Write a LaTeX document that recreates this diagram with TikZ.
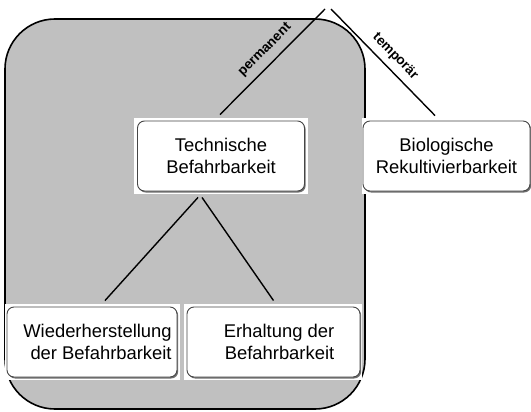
\documentclass[tikz,border=0pt]{standalone}
\usepackage{fontspec}
\setmainfont{Liberation Sans}
\usetikzlibrary{shadows,backgrounds,calc}
\definecolor{regiongray}{RGB}{192,192,192}
\begin{document}
\begin{tikzpicture}[x=1pt,y=-1pt,
  box/.style={draw=gray!55!black, line width=0.9pt, rounded corners=7pt, fill=white,
    minimum height=70pt, inner sep=2pt, align=center,
    font=\fontsize{18.4}{22}\selectfont,
    drop shadow={shadow xshift=1.2pt, shadow yshift=-1.5pt, fill=gray!60!black, opacity=0.8}},
  conn/.style={line width=1.4pt},
  edgelabel/.style={font=\fontsize{13.5}{15}\selectfont\bfseries, inner sep=0pt}]
\useasboundingbox (0,0) rectangle (531,412);
\node[box, minimum width=167pt] (T) at (221,156) {Technische\\Befahrbarkeit};
\node[box, minimum width=167pt] (B) at (446.5,156) {Biologische\\Rekultivierbarkeit};
\node[box, minimum width=170pt, align=right] (W) at (92,342) {\hspace*{11pt}Wiederherstellung\\der Befahrbarkeit};
\node[box, minimum width=173pt, align=right] (E) at (273.5,342) {\hspace*{11pt}Erhaltung der\\Befahrbarkeit};
\coordinate (ptop) at (325,9);
\coordinate (ttop) at (331,9);
\begin{scope}[on background layer]
\draw[fill=regiongray, line width=1.6pt, rounded corners=50pt] (5,19) rectangle (365,409);
\fill[white] ($(T.north west)+(-3,-3)$) rectangle ($(T.south east)+(3,3)$);
\fill[white] ($(B.north west)+(-1,-3)$) rectangle ($(B.south east)+(3,3)$);
\fill[white] ($(W.north west)+(-2,-3)$) rectangle ($(W.south east)+(3,3)$);
\fill[white] ($(E.north west)+(-3,-3)$) rectangle ($(E.south east)+(2,3)$);
\end{scope}
\draw[conn] ([xshift=-1pt,yshift=6pt]T.north) -- node[edgelabel, sloped, above=7pt, pos=0.52] (lp) {permanent} (ptop);
\draw[conn] (ttop) -- node[edgelabel, sloped, above=6pt, pos=0.53] (lt) {temporär} ([xshift=-11.5pt,yshift=5pt]B.north);
\draw[conn] ([xshift=-23pt,yshift=-6pt]T.south) -- ([xshift=13pt,yshift=6pt]W.north);
\draw[conn] ([xshift=-19pt,yshift=-6pt]T.south) -- ([xshift=0pt,yshift=6pt]E.north);
\end{tikzpicture}
\end{document}
